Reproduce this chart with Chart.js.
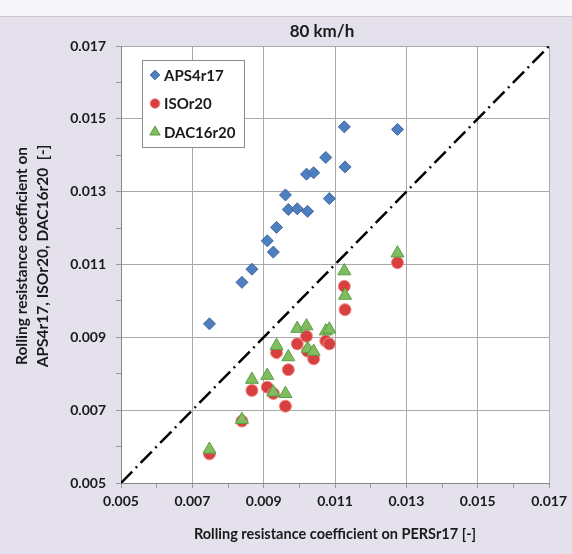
<!DOCTYPE html>
<html>
<head>
<meta charset="utf-8">
<script src="https://cdn.jsdelivr.net/npm/chart.js@4"></script>
<style>
  html, body { margin: 0; padding: 0; background: #e4e1ec; }
  #wrap { width: 572px; height: 554px; }
</style>
</head>
<body>
<div id="wrap"><canvas id="rrChart" width="572" height="554"></canvas></div>
<script>
// Valeurs (80 km/h)
const persX = [0.00748, 0.00839, 0.00867, 0.00910, 0.00927, 0.00936, 0.00961, 0.00969, 0.00994,
               0.01020, 0.01023, 0.01040, 0.01074, 0.01084, 0.01126, 0.01128, 0.01275];
const apsY  = [0.00937, 0.01051, 0.01087, 0.01165, 0.01134, 0.01202, 0.01291, 0.01251, 0.01253,
               0.01348, 0.01246, 0.01352, 0.01394, 0.01281, 0.01478, 0.01368, 0.01471];
const isoY  = [0.00580, 0.00670, 0.00754, 0.00763, 0.00746, 0.00858, 0.00711, 0.00811, 0.00882,
               0.00903, 0.00862, 0.00841, 0.00890, 0.00882, 0.01040, 0.00976, 0.01105];
const dacY  = [0.00592, 0.00674, 0.00784, 0.00795, 0.00749, 0.00877, 0.00745, 0.00846, 0.00924,
               0.00931, 0.00869, 0.00861, 0.00917, 0.00922, 0.01082, 0.01015, 0.01131];
const diagLine = [0.005, 0.017];
const seriesNames = ['APS4r17', 'ISOr20', 'DAC16r20'];
const axisMin = 0.005, axisMax = 0.017;

const toPoints = (xs, ys) => xs.map((x, i) => ({ x: x, y: ys[i] }));
const isMajor = v => Math.round(v * 1000) % 2 === 1;
const fontName = 'Lato, "Open Sans", sans-serif';

const styles = [
    { pointStyle: 'rectRot', radius: 6, bg: '#4f7fbe', border: '#3c68a3' },
    { pointStyle: 'circle', radius: 6, bg: '#d7403e', border: '#ee8a88' },
    { pointStyle: 'triangle', radius: 7.5, bg: '#7fbd5f', border: '#5c9e46' }
];

// Fond, titres et légende
const decor = {
    id: 'decor',
    beforeDraw(chart) {
        const c = chart.ctx, a = chart.chartArea;
        c.save();
        c.fillStyle = '#e4e1ec';
        c.fillRect(0, 0, chart.width, chart.height);
        c.fillStyle = '#f7f6f9';
        c.fillRect(0, 0, chart.width, 16);
        c.fillStyle = '#c9c6d0';
        c.fillRect(0, 16, chart.width, 1);
        c.fillStyle = '#ffffff';
        c.fillRect(a.left, a.top, a.right - a.left, a.bottom - a.top);
        c.restore();
    },
    afterDraw(chart) {
        const c = chart.ctx;
        c.save();
        c.fillStyle = '#1a1a1a';
        c.textAlign = 'center';
        c.textBaseline = 'middle';
        c.font = 'bold 17px ' + fontName;
        c.fillText('80 km/h', 322, 32);

        // titre axe Y sur deux lignes
        c.translate(0, 256);
        c.rotate(-Math.PI / 2);
        c.font = 'bold 15.5px ' + fontName;
        c.fillText('Rolling resistance coefficient on', 0, 22);
        c.fillText('APS4r17, ISOr20, DAC16r20  [-]', 0, 43);
        c.restore();

        // légende
        c.save();
        c.fillStyle = '#ffffff';
        c.fillRect(142, 60, 102, 87);
        c.strokeStyle = '#8c8c8c';
        c.lineWidth = 1;
        c.strokeRect(142.5, 60.5, 102, 87);
        c.font = 'bold 15px ' + fontName;
        c.textAlign = 'left';
        c.textBaseline = 'middle';
        seriesNames.forEach((name, i) => {
            const y = 75 + i * 28.5;
            const s = styles[i];
            c.fillStyle = s.bg;
            c.strokeStyle = s.border;
            Chart.helpers.drawPoint(c, { pointStyle: s.pointStyle, radius: s.radius * 0.8, borderWidth: 1 }, 155, y);
            c.fillStyle = '#1a1a1a';
            c.fillText(name, 164, y + 1);
        });
        c.restore();
    }
};

const dataSeries = [apsY, isoY, dacY].map((ys, i) => ({
    label: seriesNames[i],
    data: toPoints(persX, ys),
    pointStyle: styles[i].pointStyle,
    pointRadius: styles[i].radius,
    pointBackgroundColor: styles[i].bg,
    pointBorderColor: styles[i].border,
    pointBorderWidth: 1,
    showLine: false,
    order: 3 - i
}));

const ctx = document.getElementById('rrChart').getContext('2d');
const rrChart = new Chart(ctx, {
    type: 'scatter',
    data: {
        datasets: [
            {
                label: '1:1',
                data: toPoints(diagLine, diagLine),
                showLine: true,
                borderColor: '#000000',
                borderWidth: 2.5,
                borderDash: [16, 5, 2, 5],
                pointRadius: 0,
                order: 4
            },
            ...dataSeries
        ]
    },
    options: {
        responsive: false,
        animation: false,
        layout: { padding: { top: 46, right: 22, bottom: 0, left: 0 } },
        plugins: {
            legend: { display: false },
            title: { display: false },
            tooltip: { enabled: false }
        },
        scales: {
            x: {
                type: 'linear',
                min: axisMin,
                max: axisMax,
                afterFit: s => { s.height = 71; },
                border: { color: '#868686' },
                grid: {
                    color: c => (c.tick && isMajor(c.tick.value)) ? '#a9a9a9' : 'rgba(0,0,0,0)',
                    tickColor: '#9a9a9a',
                    tickLength: 5
                },
                ticks: {
                    stepSize: 0.001,
                    autoSkip: false,
                    maxRotation: 0,
                    padding: 5,
                    color: '#1a1a1a',
                    font: { family: fontName, size: 14, weight: 'bold' },
                    callback: v => isMajor(v) ? v.toFixed(3) : ''
                },
                title: {
                    display: true,
                    text: 'Rolling resistance coefficient on PERSr17 [-]',
                    color: '#1a1a1a',
                    font: { family: fontName, size: 14.5, weight: 'bold' },
                    padding: { top: 0, bottom: 11 }
                }
            },
            y: {
                type: 'linear',
                min: axisMin,
                max: axisMax,
                afterFit: s => { s.width = 121; },
                border: { color: '#868686' },
                grid: {
                    color: c => (c.tick && isMajor(c.tick.value)) ? '#a9a9a9' : 'rgba(0,0,0,0)',
                    tickColor: '#9a9a9a',
                    tickLength: 5
                },
                ticks: {
                    stepSize: 0.001,
                    autoSkip: false,
                    padding: 10,
                    color: '#1a1a1a',
                    font: { family: fontName, size: 14, weight: 'bold' },
                    callback: v => isMajor(v) ? v.toFixed(3) : ''
                }
            }
        }
    },
    plugins: [decor]
});
</script>
</body>
</html>
